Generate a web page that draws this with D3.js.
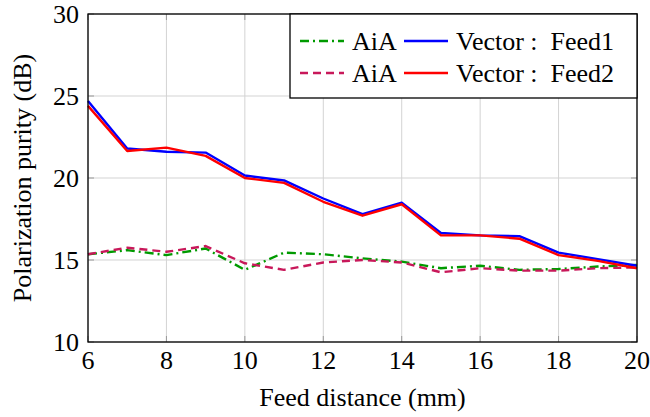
<!DOCTYPE html>
<html>
<head>
<meta charset="utf-8">
<script src="https://cdn.jsdelivr.net/npm/d3@7"></script>
<style>
  body { margin: 0; background: #fff; }
</style>
</head>
<body>
<div class="chart"></div>
<script>
var distance = [6, 7, 8, 9, 10, 11, 12, 13, 14, 15, 16, 17, 18, 19, 20];
var aiaFeed1 = [15.35, 15.6, 15.3, 15.7, 14.4, 15.45, 15.35, 15.1, 14.9, 14.5, 14.65, 14.4, 14.45, 14.6, 14.7];
var aiaFeed2 = [15.35, 15.75, 15.5, 15.85, 14.8, 14.4, 14.85, 15.0, 14.85, 14.25, 14.5, 14.35, 14.35, 14.5, 14.55];
var vecFeed1 = [24.7, 21.8, 21.6, 21.55, 20.15, 19.85, 18.75, 17.8, 18.5, 16.65, 16.5, 16.45, 15.45, 15.05, 14.65];
var vecFeed2 = [24.4, 21.65, 21.85, 21.35, 20.0, 19.7, 18.55, 17.7, 18.4, 16.5, 16.5, 16.3, 15.3, 14.95, 14.5];
var xTicks = [6, 8, 10, 12, 14, 16, 18, 20];
var yTicks = [10, 15, 20, 25, 30];

var series = [
  { name: 'AiA', values: aiaFeed1, color: '#009a00', dash: '9,4,2,4' },
  { name: 'Vector :  Feed1', values: vecFeed1, color: '#0000ff', dash: null },
  { name: 'AiA', values: aiaFeed2, color: '#c8185a', dash: '8,5' },
  { name: 'Vector :  Feed2', values: vecFeed2, color: '#ff0000', dash: null }
];

var FONT = '"Liberation Serif"';
var FS = 26;
var W = 650, H = 417;
var margin = { top: 14, right: 13, bottom: 75, left: 88 };
var width = W - margin.left - margin.right;
var height = H - margin.top - margin.bottom;

var x = d3.scaleLinear().domain([6, 20]).range([0, width]);
var y = d3.scaleLinear().domain([10, 30]).range([height, 0]);

var svg = d3.select('.chart').append('svg')
  .attr('width', W)
  .attr('height', H)
  .style('font-family', FONT)
  .style('font-size', FS + 'px');

var g = svg.append('g')
  .attr('transform', 'translate(' + margin.left + ',' + margin.top + ')');

// grid
g.append('g').selectAll('line').data(xTicks).enter().append('line')
  .attr('x1', function(d) { return x(d); }).attr('x2', function(d) { return x(d); })
  .attr('y1', 0).attr('y2', height)
  .attr('stroke', '#d3d3d3').attr('stroke-width', 1);
g.append('g').selectAll('line').data(yTicks).enter().append('line')
  .attr('y1', function(d) { return y(d); }).attr('y2', function(d) { return y(d); })
  .attr('x1', 0).attr('x2', width)
  .attr('stroke', '#d3d3d3').attr('stroke-width', 1);

// inward tick marks
var tickLen = 6;
g.append('g').selectAll('line').data(xTicks).enter().append('line')
  .attr('x1', function(d) { return x(d); }).attr('x2', function(d) { return x(d); })
  .attr('y1', height).attr('y2', height - tickLen)
  .attr('stroke', '#999').attr('stroke-width', 1);
g.append('g').selectAll('line').data(xTicks).enter().append('line')
  .attr('x1', function(d) { return x(d); }).attr('x2', function(d) { return x(d); })
  .attr('y1', 0).attr('y2', tickLen)
  .attr('stroke', '#999').attr('stroke-width', 1);
g.append('g').selectAll('line').data(yTicks).enter().append('line')
  .attr('y1', function(d) { return y(d); }).attr('y2', function(d) { return y(d); })
  .attr('x1', 0).attr('x2', tickLen)
  .attr('stroke', '#999').attr('stroke-width', 1);
g.append('g').selectAll('line').data(yTicks).enter().append('line')
  .attr('y1', function(d) { return y(d); }).attr('y2', function(d) { return y(d); })
  .attr('x1', width).attr('x2', width - tickLen)
  .attr('stroke', '#999').attr('stroke-width', 1);

// tick labels
g.append('g').selectAll('text').data(xTicks).enter().append('text')
  .attr('x', function(d) { return x(d); })
  .attr('y', height + 27)
  .attr('text-anchor', 'middle')
  .text(function(d) { return d; });
g.append('g').selectAll('text').data(yTicks).enter().append('text')
  .attr('x', -9)
  .attr('y', function(d) { return y(d) + 9; })
  .attr('text-anchor', 'end')
  .text(function(d) { return d; });

// lines
var line = d3.line()
  .x(function(d, i) { return x(distance[i]); })
  .y(function(d) { return y(d); });

var drawOrder = [series[0], series[2], series[1], series[3]];
g.selectAll('path.series').data(drawOrder).enter().append('path')
  .attr('class', 'series')
  .attr('d', function(s) { return line(s.values); })
  .attr('fill', 'none')
  .attr('stroke', function(s) { return s.color; })
  .attr('stroke-width', 2.4)
  .attr('stroke-linejoin', 'round')
  .attr('stroke-dasharray', function(s) { return s.dash; });

// frame
g.append('rect')
  .attr('width', width).attr('height', height)
  .attr('fill', 'none').attr('stroke', '#000').attr('stroke-width', 1.3);

// legend
var legX = 290 - margin.left, legY = 0, legW = width - legX, legH = 84;
var leg = g.append('g');
leg.append('rect')
  .attr('x', legX).attr('y', legY).attr('width', legW).attr('height', legH)
  .attr('fill', '#fff').attr('stroke', '#000').attr('stroke-width', 1.3);

var colX = [legX + 10, legX + 114];
var rowY = [legY + 27, legY + 59];
series.forEach(function(s, i) {
  var cx = colX[i % 2], cy = rowY[Math.floor(i / 2)];
  leg.append('line')
    .attr('x1', cx).attr('x2', cx + 44).attr('y1', cy).attr('y2', cy)
    .attr('stroke', s.color).attr('stroke-width', 2.4)
    .attr('stroke-dasharray', s.dash);
  leg.append('text')
    .attr('x', cx + 52).attr('y', cy + 9)
    .attr('xml:space', 'preserve')
    .text(s.name);
});

// axis titles
svg.append('text')
  .attr('x', margin.left + width / 2).attr('y', 406)
  .attr('text-anchor', 'middle')
  .text('Feed distance (mm)');
svg.append('text')
  .attr('transform', 'translate(31,' + (margin.top + height / 2) + ') rotate(-90)')
  .attr('text-anchor', 'middle')
  .text('Polarization purity (dB)');
</script>
</body>
</html>
